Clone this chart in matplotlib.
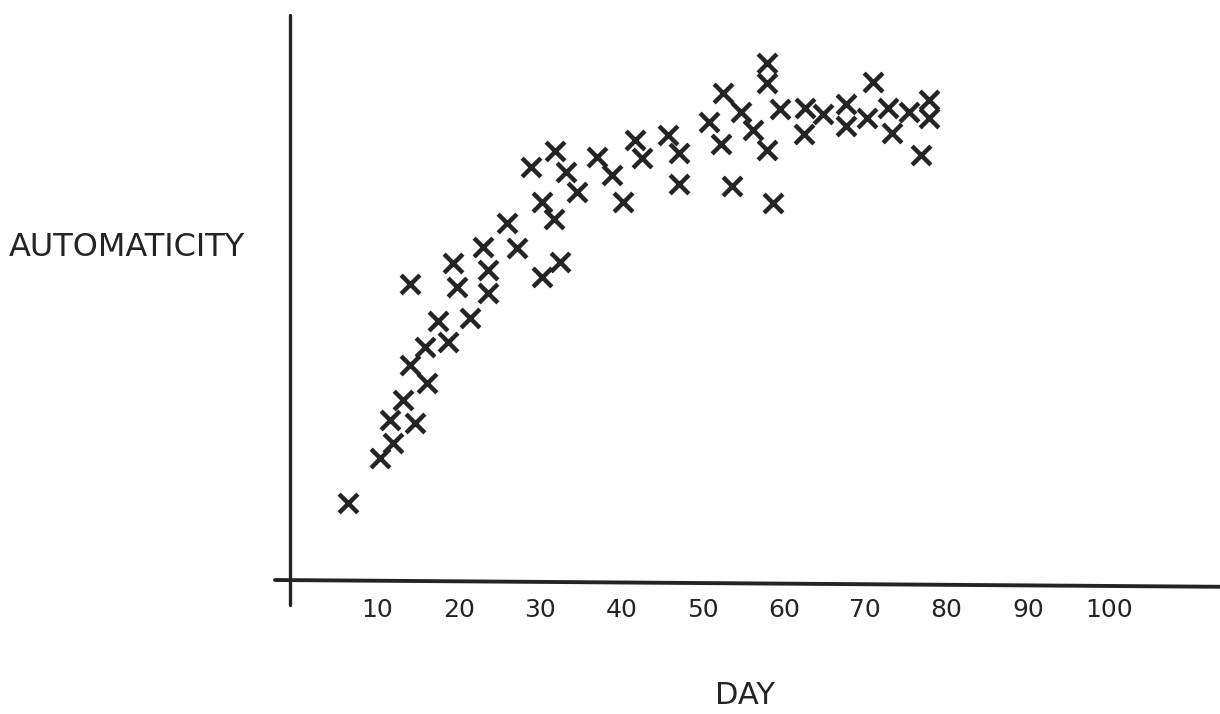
import matplotlib
matplotlib.use("Agg")
import matplotlib.pyplot as plt

# Data (day, automaticity on an arbitrary 0-100 scale)
days = [6.4, 10.3, 11.9, 11.5, 13.1, 14.6, 16.1, 14.0, 15.8, 18.7,
        17.4, 21.4, 14.0, 19.8, 19.3, 23.6, 23.6, 23.0, 27.2, 30.2,
        32.5, 25.9, 28.9, 31.8, 33.2, 34.5, 30.2, 31.7, 37.0, 38.9,
        40.2, 41.7, 42.5, 45.7, 47.1, 47.1, 50.8, 52.3, 52.5, 53.6,
        54.7, 56.2, 57.9, 57.9, 57.9, 58.7, 59.5, 62.6, 64.8, 62.5,
        67.6, 67.6, 70.2, 71.0, 72.8, 73.3, 75.4, 77.8, 77.8, 76.9]
automaticity = [13.6, 21.6, 24.2, 28.3, 31.9, 27.8, 34.9, 38.1, 41.2, 42.1,
                45.8, 46.4, 52.4, 51.9, 56.1, 50.8, 54.9, 58.9, 58.8, 53.6,
                56.3, 63.2, 73.1, 75.9, 72.2, 68.7, 66.9, 63.9, 74.9, 71.7,
                66.9, 77.9, 74.7, 78.8, 75.6, 70.1, 81.1, 77.2, 86.2, 69.7,
                82.8, 79.6, 91.5, 88.0, 76.1, 66.7, 83.4, 83.5, 82.5, 78.9,
                84.2, 80.4, 81.8, 88.1, 83.5, 79.1, 82.8, 85.0, 81.8, 75.2]
x_ticks = [10, 20, 30, 40, 50, 60, 70, 80, 90, 100]
x_tick_labels = ["10", "20", "30", "40", "50", "60", "70", "80", "90", "100"]
x_label = "DAY"
y_label = "AUTOMATICITY"

W, H = 1220, 714
ink = "#242424"
fig = plt.figure(figsize=(W / 100, H / 100), dpi=100)
fig.patch.set_facecolor("white")

left_px, right_px, top_px, axis_px = 290, 1220, 15, 580
ax = fig.add_axes([left_px / W, (H - axis_px) / H,
                   (right_px - left_px) / W, (axis_px - top_px) / H])
ax.set_xlim((left_px - 296.2) / 8.129, (right_px - 296.2) / 8.129)
ax.set_ylim(0, 100)

for s in ax.spines.values():
    s.set_visible(False)

# hand-drawn style axes lines (extend slightly past the origin)
ax_w = right_px - left_px
ax_h = axis_px - top_px
ax.plot([0, 0], [-25 / ax_h, 1], transform=ax.transAxes, clip_on=False,
        color=ink, lw=2.4, solid_capstyle="round")
ax.plot([-15 / ax_w, 1], [0, -0.012], transform=ax.transAxes, clip_on=False,
        color=ink, lw=2.8, solid_capstyle="round")

ax.scatter(days, automaticity, marker="x", s=13.5 ** 2, linewidths=3.2,
           color=ink, zorder=3)

ax.set_xticks(x_ticks)
ax.set_xticklabels(x_tick_labels, fontsize=18, color=ink)
ax.tick_params(axis="x", length=0, pad=13)
ax.set_yticks([])

fig.text(745 / W, 1 - 696 / H, x_label, fontsize=22, color=ink,
         ha="center", va="center")
fig.text(127 / W, 1 - 248 / H, y_label, fontsize=23, color=ink,
         ha="center", va="center")

fig.savefig("out.png", dpi=100, facecolor="white")
